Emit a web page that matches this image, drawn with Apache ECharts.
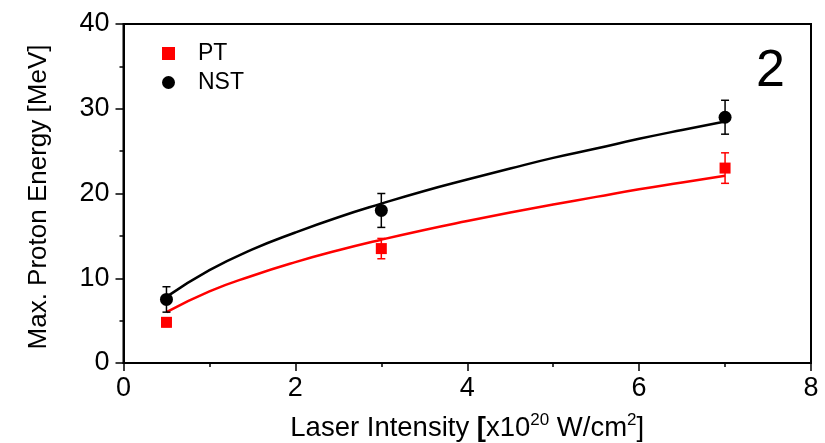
<!DOCTYPE html>
<html>
<head>
<meta charset="utf-8">
<script src="https://cdn.jsdelivr.net/npm/echarts@6/dist/echarts.min.js"></script>
<style>html,body{margin:0;padding:0;background:#fff;}#c{width:825px;height:443px;}</style>
</head>
<body>
<div id="c"></div>
<script>
// Measured points
const xValues = [0.5, 3, 7];
const ptValues = [4.8, 13.5, 23.0];
const ptErrors = [0.5, 1.2, 1.8];
const nstValues = [7.5, 18.0, 29.0];
const nstErrors = [1.5, 2.0, 2.0];
// Fit curves
const fitX = [0.5, 1, 1.5, 2, 2.5, 3, 3.5, 4, 4.5, 5, 5.5, 6, 6.5, 7];
const ptFit = [6.0, 8.45, 10.3, 11.9, 13.3, 14.55, 15.7, 16.75, 17.75, 18.7, 19.6, 20.5, 21.3, 22.1];
const nstFit = [7.8, 10.95, 13.4, 15.4, 17.2, 18.8, 20.3, 21.65, 22.95, 24.2, 25.3, 26.45, 27.5, 28.5];
const xTicks = [0, 2, 4, 6, 8];
const yTicks = [0, 10, 20, 30, 40];

const FONT = '"Liberation Sans", Arial, sans-serif';
const chart = echarts.init(document.getElementById('c'), null, {renderer: 'canvas'});

function errData(vals, errs) {
  return xValues.map((x, i) => [x, vals[i] - errs[i], vals[i] + errs[i]]);
}
function errRender(color) {
  return function (params, api) {
    const x = api.value(0);
    const lo = api.coord([x, api.value(1)]);
    const hi = api.coord([x, api.value(2)]);
    const w = 4;
    const st = {stroke: color, lineWidth: 1.5};
    return {
      type: 'group',
      children: [
        {type: 'line', shape: {x1: lo[0], y1: lo[1], x2: hi[0], y2: hi[1]}, style: st},
        {type: 'line', shape: {x1: lo[0] - w, y1: lo[1], x2: lo[0] + w, y2: lo[1]}, style: st},
        {type: 'line', shape: {x1: hi[0] - w, y1: hi[1], x2: hi[0] + w, y2: hi[1]}, style: st}
      ]
    };
  };
}

const option = {
  animation: false,
  backgroundColor: '#fff',
  grid: {left: 123.5, right: 14, top: 24, bottom: 80, show: true, borderColor: '#000', borderWidth: 2,
    outerBoundsMode: 'none', containLabel: false},
  legend: {
    data: ['PT', 'NST'],
    orient: 'vertical',
    left: 157, top: 37,
    itemGap: 6,
    itemWidth: 13, itemHeight: 13,
    textStyle: {fontFamily: FONT, fontSize: 23, color: '#000', padding: [0, 0, 0, 18]}
  },
  xAxis: {
    type: 'value', min: 0, max: 8, interval: 2,
    name: '{n|Laser Intensity }{b|[}{n|x10}{s|20}{n| W/cm}{s|2}{n|]}',
    nameLocation: 'middle', nameGap: 49,
    nameTextStyle: {
      rich: {
        n: {fontFamily: FONT, fontSize: 27.5, color: '#000', verticalAlign: 'bottom', lineHeight: 30},
        b: {fontFamily: FONT, fontSize: 27.5, fontWeight: 'bold', color: '#000', verticalAlign: 'bottom', lineHeight: 30},
        s: {fontFamily: FONT, fontSize: 17, color: '#000', verticalAlign: 'top', lineHeight: 30}
      }
    },
    axisLine: {lineStyle: {color: '#000', width: 2}},
    axisTick: {inside: false, length: 8, lineStyle: {color: '#000', width: 1.5}},
    minorTick: {show: true, splitNumber: 2, length: 4, lineStyle: {color: '#000', width: 1.5}},
    axisLabel: {fontFamily: FONT, fontSize: 27, color: '#000', margin: 12,
      formatter: v => xTicks.includes(v) ? String(v) : ''},
    splitLine: {show: false}
  },
  yAxis: {
    type: 'value', min: 0, max: 40, interval: 10,
    name: 'Max. Proton Energy [MeV]',
    nameLocation: 'middle', nameGap: 72,
    nameTextStyle: {fontFamily: FONT, fontSize: 26, color: '#000', padding: [0, 7, 0, 0]},
    axisLine: {lineStyle: {color: '#000', width: 2}},
    axisTick: {inside: false, length: 8, lineStyle: {color: '#000', width: 1.5}},
    minorTick: {show: true, splitNumber: 2, length: 4, lineStyle: {color: '#000', width: 1.5}},
    axisLabel: {fontFamily: FONT, fontSize: 27, color: '#000', margin: 14,
      formatter: v => yTicks.includes(v) ? String(v) : ''},
    splitLine: {show: false}
  },
  graphic: [{
    type: 'text', left: 756, top: 46,
    style: {text: '2', font: '52px ' + FONT, fill: '#000'}
  }],
  series: [
    {name: 'PT fit', type: 'line', data: fitX.map((x, i) => [x, ptFit[i]]), smooth: true, showSymbol: false,
      lineStyle: {color: '#ff0000', width: 2.5}, z: 2},
    {name: 'NST fit', type: 'line', data: fitX.map((x, i) => [x, nstFit[i]]), smooth: true, showSymbol: false,
      lineStyle: {color: '#000', width: 2.5}, z: 2},
    {name: 'PT err', type: 'custom', data: errData(ptValues, ptErrors), renderItem: errRender('#ff0000'), z: 3},
    {name: 'NST err', type: 'custom', data: errData(nstValues, nstErrors), renderItem: errRender('#000'), z: 3},
    {name: 'PT', type: 'scatter', symbol: 'rect', symbolSize: 11,
      data: xValues.map((x, i) => [x, ptValues[i]]), itemStyle: {color: '#ff0000', opacity: 1}, z: 4},
    {name: 'NST', type: 'scatter', symbol: 'circle', symbolSize: 13,
      data: xValues.map((x, i) => [x, nstValues[i]]), itemStyle: {color: '#000', opacity: 1}, z: 4}
  ]
};
chart.setOption(option);
</script>
</body>
</html>
